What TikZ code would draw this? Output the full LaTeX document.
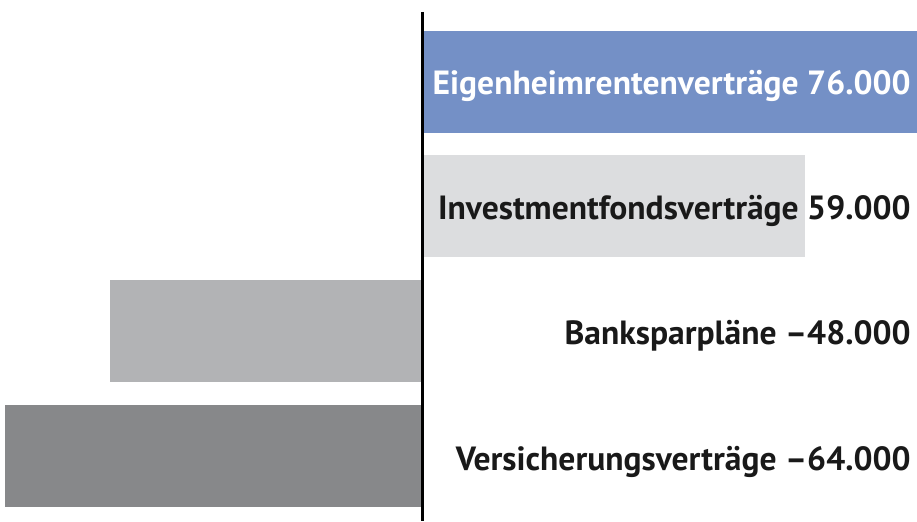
\documentclass[tikz,border=0pt]{standalone}
\usepackage{fontspec}
\setmainfont{PT Sans}
\usetikzlibrary{positioning, calc}
\definecolor{eigenblue}{HTML}{7490C6}
\definecolor{lightgrey}{HTML}{DCDDDF}
\definecolor{midgrey}{HTML}{B2B3B5}
\definecolor{darkgrey}{HTML}{87888A}
\tikzstyle{bar} = [draw=none, inner sep=0pt, outer sep=0pt, anchor=south west]
\tikzstyle{label} = [inner sep=0pt, anchor=base east, font=\fontsize{19.1}{21}\selectfont\bfseries]

\begin{document}
\begin{tikzpicture}
		\useasboundingbox (0, 0) rectangle (18.34, 10.42);
		\coordinate (axistop) at (8.45, 10.18);
		\coordinate (axisbot) at (8.45, 0);
		\coordinate (eigen)   at (8.48, 7.76);
		\coordinate (invest)  at (8.48, 5.28);
		\coordinate (bank)    at (2.2,  2.78);
		\coordinate (versi)   at (0.1,  0.28);
		\coordinate (lab1)    at (18.22, 8.52);
		\coordinate (lab2)    at (18.22, 6.02);
		\coordinate (lab3)    at (18.22, 3.52);
		\coordinate (lab4)    at (18.22, 1.02);

		\node[bar, fill=eigenblue, minimum width=9.86cm, minimum height=2.04cm] (EIG) at (eigen) {};
		\node[bar, fill=lightgrey, minimum width=7.62cm, minimum height=2.04cm] (INV) at (invest) {};
		\node[bar, fill=midgrey,   minimum width=6.24cm, minimum height=2.04cm] (BAN) at (bank) {};
		\node[bar, fill=darkgrey,  minimum width=8.34cm, minimum height=2.04cm] (VER) at (versi) {};

		\draw[line width=1.6pt] (axistop) -- (axisbot);

		\node[label, text=white] (L1) at (lab1) {Eigenheimrentenverträge 76.000};
		\node[label, text=black!90] (L2) at (lab2) {Investmentfondsverträge 59.000};
		\node[label, text=black!90] (L3) at (lab3) {Banksparpläne –48.000};
		\node[label, text=black!90] (L4) at (lab4) {Versicherungsverträge –64.000};

	\end{tikzpicture}
\end{document}
